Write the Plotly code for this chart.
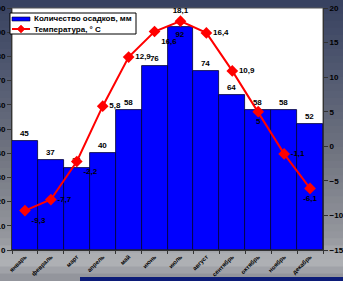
import plotly.graph_objects as go

months = ["январь", "февраль", "март", "апрель", "май", "июнь",
          "июль", "август", "сентябрь", "октябрь", "ноябрь", "декабрь"]
precip = [45, 37, 34, 40, 58, 76, 92, 74, 64, 58, 58, 52]
temp = [-9.3, -7.7, -2.2, 5.8, 12.9, 16.6, 18.1, 16.4, 10.9, 5, -1.1, -6.1]
series_names = ["Количество осадков, мм", "Температура, ° С"]

temp_text = [f"{v:g}".replace(".", ",") for v in temp]
temp_pos = ["bottom right", "middle right", "bottom right", "middle right",
            "middle right", "bottom right", "top center", "middle right",
            "middle right", "bottom center", "middle right", "bottom center"]
bar_pos = ["outside"] * 12
bar_pos[6] = "inside"

FONT = "Arial, Liberation Sans, sans-serif"
B = "bold"

fig = go.Figure()
fig.add_trace(go.Bar(
    x=months, y=precip, name=series_names[0],
    marker=dict(color="#0000FF", line=dict(color="#000033", width=0.8)),
    text=[str(v) for v in precip], textposition=bar_pos,
    insidetextanchor="end",
    textfont=dict(family=FONT, size=8, color="black", weight=B),
    insidetextfont=dict(family=FONT, size=8, color="black", weight=B),
    outsidetextfont=dict(family=FONT, size=8, color="black", weight=B),
    cliponaxis=False, yaxis="y"))
fig.add_trace(go.Scatter(
    x=months, y=temp, name=series_names[1], yaxis="y2",
    mode="lines+markers+text",
    line=dict(color="#FF0000", width=2),
    marker=dict(symbol="diamond", size=9, color="#FF0000"),
    text=temp_text, textposition=temp_pos,
    textfont=dict(family=FONT, size=8, color="black", weight=B),
    cliponaxis=False))

# background gradient (decoration)
def lerp(c1, c2, t):
    return "#%02x%02x%02x" % tuple(int(round(a + (b - a) * t)) for a, b in zip(c1, c2))

PW, PH, L, T = 311, 242, 12, 8
def px(x):
    return (x - L) / PW
def py(y):
    return (T + PH - y) / PH

stops = [(0.0, (55, 65, 95)), (0.25, (80, 88, 112)), (0.55, (112, 116, 128)),
         (0.85, (150, 152, 158)), (0.93, (178, 180, 184)), (1.0, (140, 142, 150))]
shapes = []
N = 40
y_top, y_bot = py(0), py(281)
for i in range(N):
    f0 = i / N
    f1 = (i + 1) / N
    fm = (f0 + f1) / 2
    for j in range(len(stops) - 1):
        if stops[j][0] <= fm <= stops[j + 1][0]:
            t = (fm - stops[j][0]) / (stops[j + 1][0] - stops[j][0])
            col = lerp(stops[j][1], stops[j + 1][1], t)
            break
    ya = y_top - (y_top - y_bot) * f0
    yb = y_top - (y_top - y_bot) * f1
    shapes.append(dict(type="rect", xref="paper", yref="paper", x0=px(-20), x1=px(360),
                       y0=yb - 0.002, y1=ya + 0.002, fillcolor=col, line_width=0,
                       layer="below"))
shapes.append(dict(type="rect", xref="paper", yref="paper", x0=px(80), x1=px(360),
                   y0=py(290), y1=py(277), fillcolor="#0c1c78",
                   line_width=0, layer="below"))
shapes.append(dict(type="rect", xref="paper", yref="paper", x0=0, x1=1,
                   y0=0, y1=1, fillcolor="white", line=dict(color="#555555", width=1),
                   layer="below"))

# custom compact legend
shapes.append(dict(type="rect", xref="paper", yref="paper", x0=px(10), x1=px(136),
                   y0=py(34), y1=py(13), fillcolor="white",
                   line=dict(color="black", width=1), layer="above"))
shapes.append(dict(type="rect", xref="paper", yref="paper", x0=px(12), x1=px(30),
                   y0=py(21), y1=py(17), fillcolor="#0000FF",
                   line=dict(color="#000033", width=0.6), layer="above"))
shapes.append(dict(type="line", xref="paper", yref="paper", x0=px(12), x1=px(30),
                   y0=py(29), y1=py(29), line=dict(color="#FF0000", width=2),
                   layer="above"))
cx, cy = 21, 29
shapes.append(dict(type="path", xref="paper", yref="paper",
                   path=f"M {px(cx-4)} {py(cy)} L {px(cx)} {py(cy-4)} L {px(cx+4)} {py(cy)} L {px(cx)} {py(cy+4)} Z",
                   fillcolor="#FF0000", line=dict(color="#FF0000", width=0.5),
                   layer="above"))
annotations = [
    dict(xref="paper", yref="paper", x=px(32), y=py(19), xanchor="left",
         yanchor="middle", text=series_names[0], showarrow=False,
         font=dict(family=FONT, size=8, color="black", weight=B)),
    dict(xref="paper", yref="paper", x=px(32), y=py(29), xanchor="left",
         yanchor="middle", text=series_names[1], showarrow=False,
         font=dict(family=FONT, size=8, color="black", weight=B)),
]

fig.update_layout(
    width=343, height=281,
    margin=dict(l=L, r=20, t=T, b=31),
    paper_bgcolor="#8a8d95", plot_bgcolor="white",
    bargap=0, showlegend=False, shapes=shapes, annotations=annotations,
    font=dict(family=FONT, size=8, color="black", weight=B),
    xaxis=dict(type="category", range=[-0.5, 11.5], tickangle=-45,
               tickfont=dict(size=6, color="black", weight=B),
               ticks="outside", ticklen=3, tickcolor="#333333",
               tickson="boundaries", showline=True, linecolor="#333333",
               showgrid=False, automargin=False),
    yaxis=dict(range=[0, 100], dtick=10, ticks="outside", ticklen=4,
               tickcolor="#333333", showgrid=False, showline=True,
               linecolor="#333333", tickfont=dict(size=8, color="black", weight=B),
               automargin=False, zeroline=False),
    yaxis2=dict(range=[-15, 20], dtick=5, overlaying="y", side="right",
                ticks="outside", ticklen=4, tickcolor="#333333", showgrid=False,
                showline=True, linecolor="#333333",
                tickfont=dict(size=8, color="black", weight=B),
                automargin=False, zeroline=False),
)

fig.write_html("out.html", config={"displayModeBar": False},
               post_script="document.body.style.margin='0';")
